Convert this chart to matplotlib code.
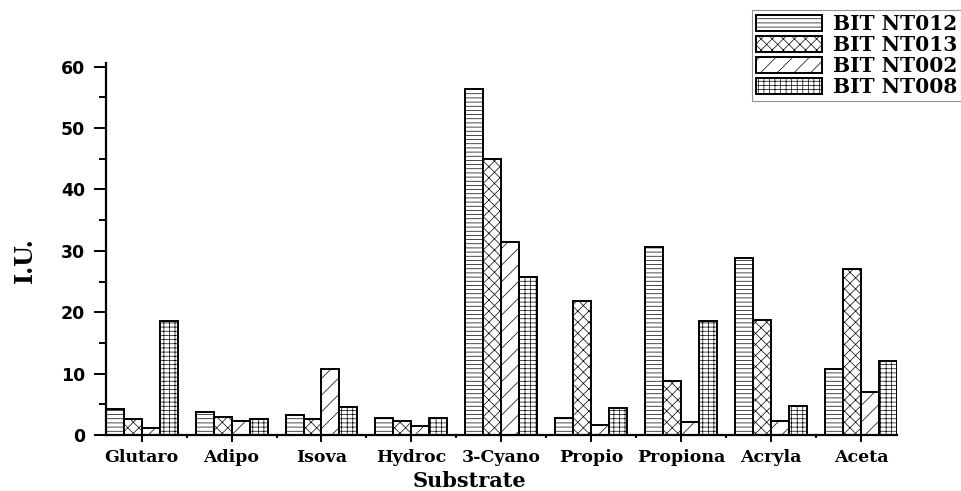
import matplotlib
matplotlib.use("Agg")
import matplotlib.pyplot as plt
import numpy as np

categories = ["Glutaro", "Adipo", "Isova", "Hydroc", "3-Cyano", "Propio", "Propiona", "Acryla", "Aceta"]
series_names = ["BIT NT012", "BIT NT013", "BIT NT002", "BIT NT008"]
nt012 = [4.3, 3.7, 3.2, 2.8, 56.3, 2.7, 30.7, 28.9, 10.8]
nt013 = [2.6, 3.0, 2.6, 2.2, 44.9, 21.8, 8.8, 18.8, 27.1]
nt002 = [1.2, 2.2, 10.8, 1.5, 31.5, 1.7, 2.1, 2.3, 7.0]
nt008 = [18.6, 2.6, 4.6, 2.7, 25.7, 4.4, 18.6, 4.7, 12.1]
y_ticks = [0, 10, 20, 30, 40, 50, 60]

series = [nt012, nt013, nt002, nt008]
hatches = ["----", "xxx", "//", "----|||"]

plt.rcParams["hatch.linewidth"] = 0.5

fig = plt.figure(figsize=(9.62, 4.91), dpi=100)
ax = fig.add_axes([0.1099, 0.1141, 0.9323 - 0.1099, 0.8717 - 0.1141])

x = np.arange(len(categories))
width = 0.2
for i, (vals, h, name) in enumerate(zip(series, hatches, series_names)):
    ax.bar(x + (i - 1.5) * width, vals, width, facecolor="white", edgecolor="black",
           hatch=h, linewidth=1.4, label=name)

ax.set_xlim(-0.4, 8.4)
ax.set_ylim(0, 60.6)
ax.spines["top"].set_visible(False)
ax.spines["right"].set_visible(False)
for s in ("left", "bottom"):
    ax.spines[s].set_linewidth(1.6)

ax.set_xticks(x)
ax.set_xticklabels(categories, fontfamily="DejaVu Serif", fontweight="heavy", fontsize=12.5)
ax.set_xticks(x[:-1] + 0.5, minor=True)
ax.set_yticks(y_ticks)
ax.set_yticklabels([str(v) for v in y_ticks], fontfamily="DejaVu Sans", fontweight="heavy", fontsize=12.5)
ax.set_yticks(np.arange(5, 60, 10), minor=True)

ax.tick_params(axis="y", which="major", length=9, width=1.4, pad=6)
ax.tick_params(axis="y", which="minor", length=5, width=1.4)
ax.tick_params(axis="x", which="major", length=5, width=1.4, pad=5)
ax.tick_params(axis="x", which="minor", length=2.5, width=1.4)

fig.text(0.488, 0.0, "Substrate", ha="center", va="bottom",
         fontfamily="DejaVu Serif", fontweight="heavy", fontsize=15)
fig.text(0.026, 1 - 260 / 491, "I.U.", ha="center", va="center", rotation=90,
         fontfamily="DejaVu Serif", fontweight="heavy", fontsize=17)

leg = fig.legend(loc="upper left", bbox_to_anchor=(752 / 962, 1 - 10 / 491),
                 prop={"family": "DejaVu Serif", "weight": "heavy", "size": 14.5},
                 handlelength=3.3, handleheight=0.8, handletextpad=0.5,
                 labelspacing=0.05, borderpad=0.2, borderaxespad=0,
                 fancybox=False, frameon=True)
leg.get_frame().set_edgecolor("#777777")
leg.get_frame().set_linewidth(0.8)

fig.savefig("out.png", dpi=100)
